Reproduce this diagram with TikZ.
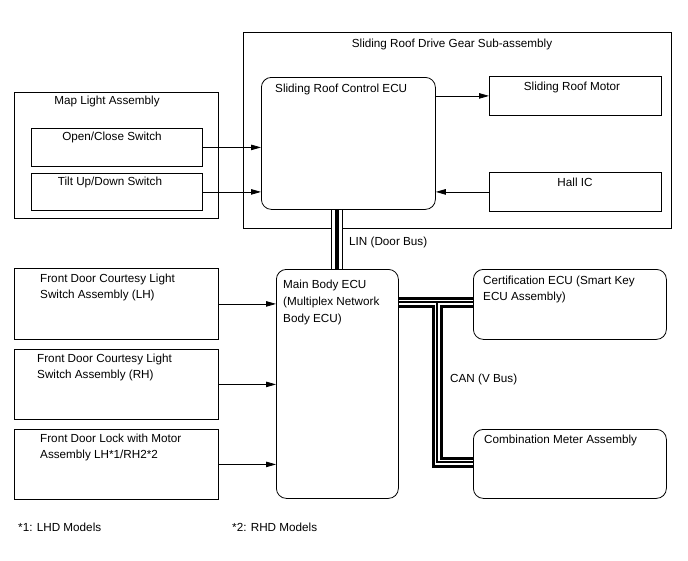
\documentclass[tikz,border=0pt]{standalone}
\usepackage{fontspec}
\setmainfont{Liberation Sans}
\usetikzlibrary{arrows.meta}
\begin{document}
\begin{tikzpicture}[x=1pt,y=-1pt,
  box/.style={draw, line width=0.8pt, inner sep=0pt, anchor=north west},
  rbox/.style={box, rounded corners=10pt},
  txt/.style={inner sep=0pt, font=\fontsize{11.7}{16.5}\selectfont, align=left},
  arr/.style={line width=0.8pt, -{Triangle[length=10pt,width=5.5pt]}},
]
\useasboundingbox (0,0) rectangle (688,560);

% boxes
\node[box, minimum width=428pt, minimum height=196pt] (sr) at (243,32) {};
\node[rbox, minimum width=174pt, minimum height=132pt] (srecu) at (261,77) {};
\node[box, minimum width=172pt, minimum height=39pt] (motor) at (489,76) {};
\node[box, minimum width=172pt, minimum height=39pt] (hall) at (489,172) {};
\node[box, minimum width=204pt, minimum height=126pt] (map) at (14,92) {};
\node[box, minimum width=171pt, minimum height=38pt] (oc) at (31,128) {};
\node[box, minimum width=171pt, minimum height=37pt] (tilt) at (31,173) {};
\node[box, minimum width=204pt, minimum height=71pt] (fdl1) at (14,268) {};
\node[box, minimum width=204pt, minimum height=70pt] (fdl2) at (14,349) {};
\node[box, minimum width=204pt, minimum height=70pt] (fdlock) at (14,429) {};
\node[rbox, minimum width=122pt, minimum height=229pt] (main) at (276,269) {};
\node[rbox, minimum width=193pt, minimum height=70pt] (cert) at (473,269) {};
\node[rbox, minimum width=193pt, minimum height=69pt] (meter) at (473,429) {};

% texts
\node[txt, anchor=north] (srT) at (452,38.5) {Sliding Roof Drive Gear Sub-assembly};
\node[txt, anchor=north west] (srecuT) at (275,84) {Sliding Roof Control ECU};
\node[txt, anchor=north] (motorT) at (572,81.5) {Sliding Roof Motor};
\node[txt, anchor=north] (hallT) at (575,177.5) {Hall IC};
\node[txt, anchor=north] (mapT) at (107,96) {Map Light Assembly};
\node[txt, anchor=north] (ocT) at (112,131.5) {Open/Close Switch};
\node[txt, anchor=north] (tiltT) at (110,176.5) {Tilt Up/Down Switch};
\node[txt, anchor=north west] (fdl1T) at (40,273.5) {Front Door Courtesy Light\\Switch Assembly (LH)};
\node[txt, anchor=north west] (fdl2T) at (37,353.5) {Front Door Courtesy Light\\Switch Assembly (RH)};
\node[txt, anchor=north west] (fdlockT) at (40,433.5) {Front Door Lock with Motor\\Assembly LH*1/RH2*2};
\node[txt, anchor=north west, font=\fontsize{11.7}{17}\selectfont] (mainT) at (283,279.5) {Main Body ECU\\(Multiplex Network\\Body ECU)};
\node[txt, anchor=north west] (certT) at (483,275.5) {Certification ECU (Smart Key\\ECU Assembly)};
\node[txt, anchor=north west] (meterT) at (484,434.5) {Combination Meter Assembly};
\node[txt, anchor=north west] (linT) at (349,236.5) {LIN (Door Bus)};
\node[txt, anchor=north west] (canT) at (450,373.5) {CAN (V Bus)};
\node[txt, anchor=north west] (f1) at (18,522.5) {*1: LHD Models};
\node[txt, anchor=north west] (f2) at (232,522.5) {*2: RHD Models};

% arrows
\draw[arr] (oc.east) -- (oc.east -| srecu.west);
\draw[arr] (tilt.east) -- (tilt.east -| srecu.west);
\draw[arr] (srecu.east |- motor.west) -- (motor.west);
\draw[arr] (hall.west) -- (hall.west -| srecu.east);
\draw[arr] (fdl1.east) -- (fdl1.east -| main.west);
\draw[arr] (fdl2.east) -- (fdl2.east -| main.west);
\draw[arr] (fdlock.east) -- (fdlock.east -| main.west);

% LIN bus
\foreach \w/\c in {12pt/black,10pt/white,4pt/black}{
  \draw[line width=\w, \c] (srecu.south -| main.north) -- (main.north);
}

% CAN bus
\coordinate (cj) at (437,302);
\coordinate (cb) at (437,462);
\foreach \w/\c in {11pt/black,5pt/white,1.2pt/black}{
  \draw[line width=\w, \c] (cj -| main.east) -- (cj -| cert.west);
  \draw[line width=\w, \c, line join=miter] (cj) -- (cb) -- (cb -| meter.west);
}
\end{tikzpicture}
\end{document}
